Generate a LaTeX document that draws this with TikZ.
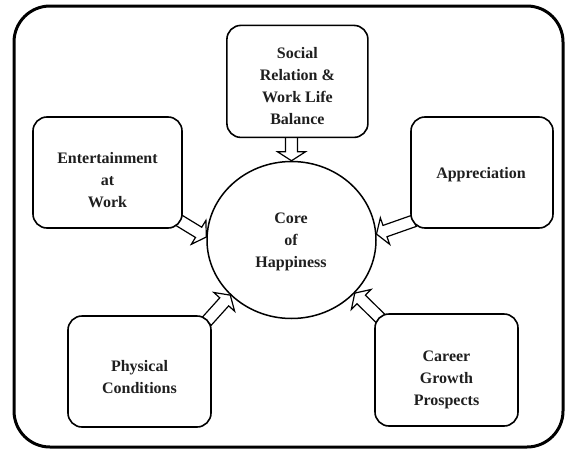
\documentclass[tikz,border=0pt]{standalone}
\usepackage{fontspec}
\setmainfont{Liberation Serif}
\usetikzlibrary{shapes.geometric,calc}

\pgfdeclarelayer{back}
\pgfsetlayers{back,main}

% hollow block arrow: shaft 12pt wide, head 28pt wide and 9pt long
\newcommand\blockarrow[2]{%
  \draw[hollow] let \p1=(#1), \p2=(#2),
    \n1={atan2(\y2-\y1,\x2-\x1)}, \n2={veclen(\x2-\x1,\y2-\y1)-9} in
    ($(\p1)+(\n1+90:6pt)$)
    -- ($(\p1)+(\n1:{\n2*1pt})+(\n1+90:6pt)$)
    -- ($(\p1)+(\n1:{\n2*1pt})+(\n1+90:14pt)$)
    -- (\p2)
    -- ($(\p1)+(\n1:{\n2*1pt})+(\n1-90:14pt)$)
    -- ($(\p1)+(\n1:{\n2*1pt})+(\n1-90:6pt)$)
    -- ($(\p1)+(\n1-90:6pt)$) -- cycle;}

\begin{document}
\begin{tikzpicture}[x=1pt,y=-1pt,
  frame/.style={draw, line width=3pt, rounded corners=36pt},
  box/.style={draw, line width=1.6pt, rounded corners=14pt, fill=white,
    minimum height=111pt},
  core/.style={ellipse, draw, line width=1.5pt, minimum width=169pt,
    minimum height=157pt},
  txt/.style={align=center, font=\fontsize{16}{22}\selectfont\bfseries,
    text=black!88},
  hollow/.style={draw, fill=white, line width=1.2pt, line join=miter}]
  \useasboundingbox (0,0) rectangle (565,450);

  % outer frame
  \draw[frame] (14,6) rectangle (563,447);

  % factor boxes and the central circle
  \node[box, minimum width=141pt, minimum height=112pt] (social) at (297.4,81.4) {};
  \node[box, minimum width=149pt] (ent) at (107.5,172.5) {};
  \node[box, minimum width=142pt] (app) at (482,172.5) {};
  \node[box, minimum width=143pt] (phys) at (139.5,371.5) {};
  \node[box, minimum width=143pt, minimum height=112pt] (car) at (446.5,370) {};
  \node[core] (core) at (291.5,240) {};

  % labels
  \node[txt] (socialtxt) at (297.4,86) {Social\\Relation \&\\Work Life\\Balance};
  \node[txt] (enttxt) at (107.5,180) {Entertainment\\at\\Work};
  \node[txt] (apptxt) at (481,175) {Appreciation};
  \node[txt] (physt) at (139.5,377) {Physical\\Conditions};
  \node[txt] (cartxt) at (446.5,380) {Career\\Growth\\Prospects};
  \node[txt] (coretxt) at (291,242) {Core\\of\\Happiness};

  % arrows into the core, tucked under the boxes
  \coordinate (tS) at ($(core.north |- social.south)+(0,-2)$);
  \coordinate (tE) at ($(ent.south east)+(-8,-11)$);
  \coordinate (tA) at ($(app.south west)+(4,-8)$);
  \coordinate (tP) at ($(phys.north east)+(-5,6)$);
  \coordinate (tC) at ($(car.north west)+(7,6)$);
  \begin{pgfonlayer}{back}
    \blockarrow{tS}{core.north}
    \blockarrow{tE}{core.178}
    \blockarrow{tA}{core.4}
    \blockarrow{tP}{core.222}
    \blockarrow{tC}{core.320}
  \end{pgfonlayer}
\end{tikzpicture}
\end{document}
